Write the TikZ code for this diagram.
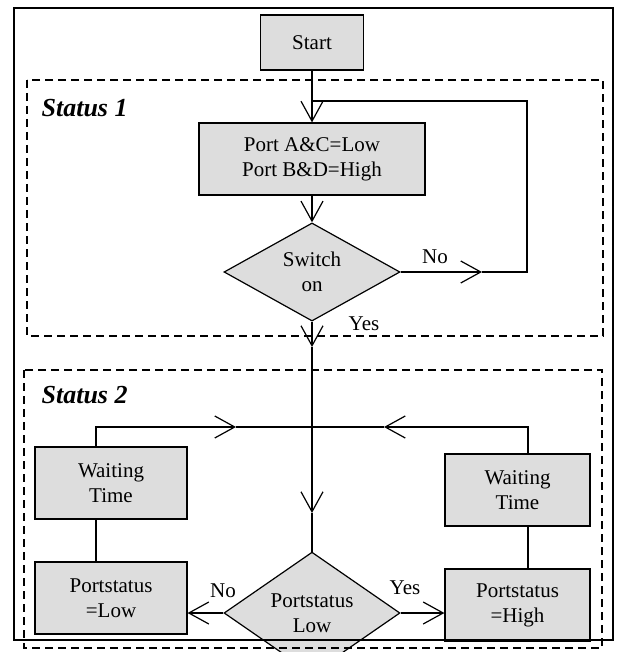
\documentclass[tikz,border=0pt]{standalone}
\usepackage{fontspec}
\setmainfont{Liberation Serif}
\usetikzlibrary{arrows.meta}
\usetikzlibrary{shapes.geometric}
\usetikzlibrary{positioning}
\definecolor{boxgray}{RGB}{221,221,221}
\tikzset{>={Straight Barb[length=20pt,width=22pt]}}
\tikzset{
  procbox/.style={draw, fill=boxgray, line width=1.2pt, align=center, inner sep=0pt,
    font=\fontsize{21}{25}\selectfont},
  decision/.style={diamond, draw, fill=boxgray, line width=1.2pt, align=center, inner sep=0pt,
    minimum width=176pt, minimum height=88pt, font=\fontsize{21}{25}\selectfont},
  statusbox/.style={draw, dash pattern=on 8pt off 5pt, line width=1.2pt},
  statuslabel/.style={anchor=base west, inner sep=0pt, font=\fontsize{26}{30}\selectfont\bfseries\itshape},
  flowlabel/.style={anchor=base, inner sep=0pt, font=\fontsize{21}{25}\selectfont},
}

\begin{document}
\begin{tikzpicture}[x=1pt, y=-1pt, line width=1.2pt]
    \useasboundingbox (0,0) rectangle (616,652);
    % Status 1: set the ports and wait for the switch.
    \node[procbox, minimum width=103pt, minimum height=55pt] (start) at (312,42.5) {Start};
    \node[procbox, minimum width=226pt, minimum height=72pt] (port) at (312,159) {Port A\&C=Low\\Port B\&D=High};
    \node[decision] (sw) at (312,272) {Switch\\on};
    \node[statuslabel] (st1) at (41,117) {Status 1};
    \node[flowlabel] (swno) at (435,263) {No};
    \node[flowlabel] (swyes) at (364,330) {Yes};
    % Status 2: toggle the port status.
    \node[decision] (ps) at (312,613) {Portstatus\\Low};
    \node[procbox, minimum width=152pt, minimum height=72pt] (wl) at (111,483) {Waiting\\Time};
    \node[procbox, minimum width=152pt, minimum height=72pt] (pl) at (111,598) {Portstatus\\=Low};
    \node[procbox, minimum width=145pt, minimum height=72pt] (wr) at (517.5,490) {Waiting\\Time};
    \node[procbox, minimum width=145pt, minimum height=72pt] (pr) at (517.5,605) {Portstatus\\=High};
    \node[statuslabel] (st2) at (41,403) {Status 2};
    \node[flowlabel] (psno) at (223,597) {No};
    \node[flowlabel] (psyes) at (405,594) {Yes};

    % Points where the lines turn or carry an arrow.
    \coordinate (noarr) at (482,272);
    \coordinate (loopr) at (527,101);
    \coordinate (loopj) at (312,101);
    \coordinate (yarr) at (312,347);
    \coordinate (darr) at (312,513);
    \coordinate (jl) at (96,427);
    \coordinate (jr) at (528,427);
    \coordinate (ja) at (236,427);
    \coordinate (jb) at (384,427);
    \coordinate (jc) at (312,427);

    % Draw the connectors of status 1.
    \draw[->] (start) -- (port);
    \draw[->] (port) -- (sw);
    \draw[->] (sw.east) -- (noarr);
    \draw (noarr) -| (loopr) -- (loopj);
    \draw[->] (sw.south) -- (yarr);
    \draw[->] (yarr) -- (darr);
    \draw (darr) -- (ps.north);
    % Draw the connectors of status 2.
    \draw[->] (ps.west) -- (ps.west -| pl.east);
    \draw[->] (ps.east) -- (ps.east -| pr.west);
    \draw (pl.north -| jl) -- (wl.south -| jl);
    \draw (pr.north -| jr) -- (wr.south -| jr);
    \draw[->] (wl.north -| jl) |- (ja);
    \draw (ja) -- (jc);
    \draw[->] (wr.north -| jr) |- (jb);
    \draw (jb) -- (jc);

    % Draw the frames.
    \draw[statusbox] (27,80) rectangle (603,336);
    \draw[statusbox] (24,370) rectangle (602,648);
    \draw (14,8) rectangle (613,640);
\end{tikzpicture}
\end{document}
